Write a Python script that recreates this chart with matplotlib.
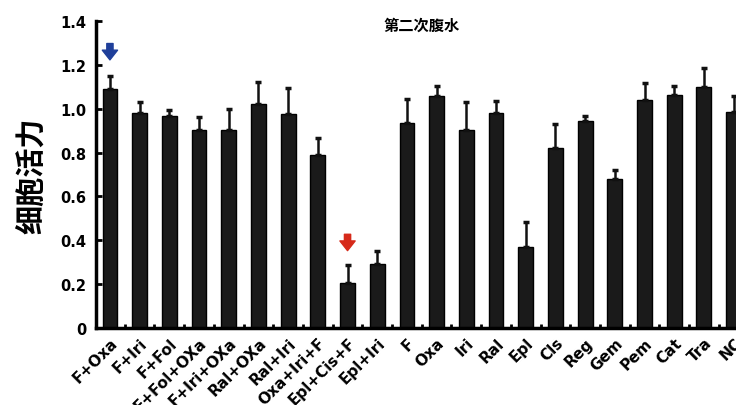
import matplotlib.pyplot as plt
import numpy as np

plt.rcParams['font.family'] = ['DejaVu Sans', 'Noto Sans CJK SC']

labels = ['F+Oxa', 'F+Iri', 'F+Fol', 'F+Fol+OXa', 'F+Iri+OXa', 'Ral+OXa', 'Ral+Iri',
          'Oxa+Iri+F', 'Epl+Cis+F', 'Epl+Iri', 'F', 'Oxa', 'Iri', 'Ral', 'Epl', 'Cls',
          'Reg', 'Gem', 'Pem', 'Cat', 'Tra', 'NC']
values = [1.09, 0.98, 0.965, 0.905, 0.905, 1.02, 0.975, 0.79, 0.205, 0.29, 0.935,
          1.058, 0.905, 0.98, 0.37, 0.82, 0.944, 0.68, 1.04, 1.062, 1.10, 0.985]
errors = [0.058, 0.05, 0.03, 0.055, 0.095, 0.10, 0.12, 0.075, 0.08, 0.06, 0.11,
          0.045, 0.125, 0.055, 0.113, 0.11, 0.025, 0.04, 0.077, 0.04, 0.085, 0.073]

x = np.arange(len(labels))

fig = plt.figure(figsize=(7.36, 4.06), dpi=100)
ax = fig.add_axes([0.1304, 0.1897, 0.8696, 0.7561])

ax.bar(x, values, width=0.5, color='#1a1a1a', edgecolor='black', linewidth=1,
       yerr=[np.zeros(len(errors)), errors], capsize=2.5,
       error_kw={'elinewidth': 1.8, 'capthick': 2.5, 'ecolor': '#111111'})

ax.set_xlim(-0.47, 21.08)
ax.set_ylim(0, 1.4)
ax.set_yticks([0, 0.2, 0.4, 0.6, 0.8, 1.0, 1.2, 1.4])
ax.set_yticklabels(['0', '0.2', '0.4', '0.6', '0.8', '1.0', '1.2', '1.4'],
                   fontsize=10.5, fontweight='bold')
ax.set_xticks(x)
ax.set_xticklabels(labels, rotation=45, ha='right', rotation_mode='anchor',
                   fontsize=11, fontweight='bold')
ax.set_xticks(x[:-1] + 0.5, minor=True)
ax.tick_params(axis='x', which='major', length=0, pad=5)
ax.tick_params(axis='x', which='minor', direction='in', length=3, width=2)
ax.tick_params(axis='y', direction='in', length=4, width=2, pad=7)

for side in ['top', 'right']:
    ax.spines[side].set_visible(False)
ax.spines['left'].set_linewidth(2.5)
ax.spines['bottom'].set_linewidth(2.5)

ax.set_ylabel('细胞活力', fontsize=21, fontweight='bold',
              family=['Noto Sans CJK SC', 'DejaVu Sans'], labelpad=10)
ax.set_title('第二次腹水', fontsize=11, fontweight='bold',
             family=['Noto Sans CJK SC', 'DejaVu Sans'], x=0.508, y=1.0, pad=-6)

ax.annotate('', xy=(0, 1.21), xytext=(0, 1.31),
            arrowprops=dict(arrowstyle='simple,head_width=1.1,head_length=0.7,tail_width=0.45',
                            color='#1f3f9a'))
ax.annotate('', xy=(8, 0.34), xytext=(8, 0.44),
            arrowprops=dict(arrowstyle='simple,head_width=1.1,head_length=0.7,tail_width=0.45',
                            color='#d62a1a'))

fig.savefig('out.png', dpi=100)
